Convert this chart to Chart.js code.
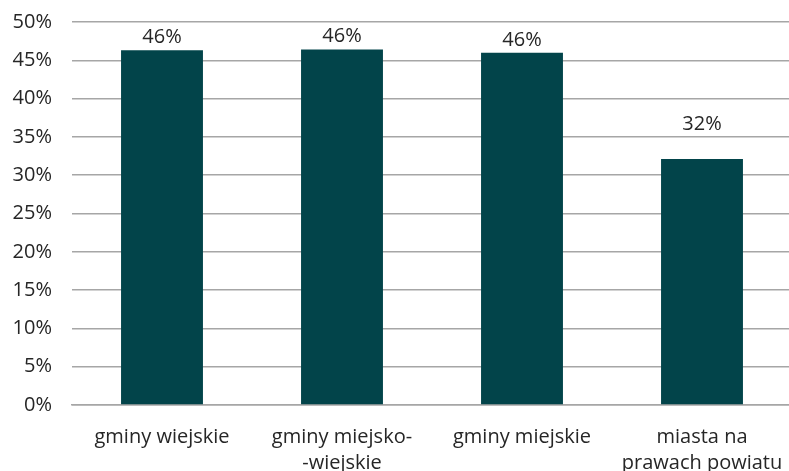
<!DOCTYPE html>
<html>
<head>
<meta charset="utf-8">
<script src="https://cdn.jsdelivr.net/npm/chart.js@4/dist/chart.umd.min.js"></script>
<style>
  html, body { margin: 0; padding: 0; background: #fff; overflow: hidden; }
  #wrap { width: 792px; height: 471px; position: relative; }
</style>
</head>
<body>
<div id="wrap"><canvas id="canvas"></canvas></div>
<script>
// kategorie i wartosci (w procentach)
var categories = [
    "gminy wiejskie",
    ["gminy miejsko-", "-wiejskie"],
    "gminy miejskie",
    ["miasta na", "prawach powiatu"]
];
var values = [46.3, 46.4, 46.0, 32.1];
var valueLabels = ["46%", "46%", "46%", "32%"];
var yTicks = [0, 5, 10, 15, 20, 25, 30, 35, 40, 45, 50];

var fontFamily = "'Open Sans', 'Noto Sans', sans-serif";
var textColor = "#262626";

// etykiety nad slupkami (Excel ustawia je w roznej odleglosci)
var barLabels = {
    id: 'barLabels',
    afterDatasetsDraw: function(chart, args, opts) {
        var ctx = chart.ctx;
        var meta = chart.getDatasetMeta(0);
        ctx.save();
        ctx.font = "20px " + fontFamily;
        ctx.fillStyle = textColor;
        ctx.textAlign = 'center';
        ctx.textBaseline = 'middle';
        meta.data.forEach(function(bar, i) {
            ctx.fillText(valueLabels[i], bar.x, bar.y - opts.gaps[i]);
        });
        ctx.restore();
    }
};

var config = {
    type: 'bar',
    data: {
        labels: categories,
        datasets: [{
            data: values,
            backgroundColor: "#02444A",
            borderWidth: 0,
            barPercentage: 0.455,
            categoryPercentage: 1.0
        }]
    },
    options: {
        responsive: true,
        maintainAspectRatio: false,
        animation: false,
        layout: { padding: { top: 22, right: 0, left: 0, bottom: 0 } },
        plugins: {
            legend: { display: false },
            tooltip: { enabled: false },
            barLabels: { gaps: [13, 13, 12, 35] }
        },
        scales: {
            x: {
                afterFit: function(scale) {
                    scale.height = 66;
                    scale.paddingLeft = 0;
                    scale.paddingRight = 0;
                },
                grid: { display: false, drawTicks: false },
                border: { color: "#a6a6a6", width: 1.5 },
                ticks: {
                    color: textColor,
                    font: { family: fontFamily, size: 20, lineHeight: 1.3 },
                    padding: 19,
                    maxRotation: 0,
                    autoSkip: false
                }
            },
            y: {
                min: 0,
                max: 50,
                afterFit: function(scale) {
                    scale.width = 72;
                    scale.paddingTop = 0;
                    scale.paddingBottom = 0;
                },
                afterBuildTicks: function(scale) {
                    scale.ticks = yTicks.map(function(v) { return { value: v }; });
                },
                grid: { color: "#a6a6a6", lineWidth: 1.5, drawTicks: false },
                border: { display: false },
                ticks: {
                    color: textColor,
                    font: { family: fontFamily, size: 20 },
                    padding: 20,
                    callback: function(v) { return v + "%"; }
                }
            }
        }
    },
    plugins: [barLabels]
};

new Chart(document.getElementById('canvas'), config);
</script>
</body>
</html>
